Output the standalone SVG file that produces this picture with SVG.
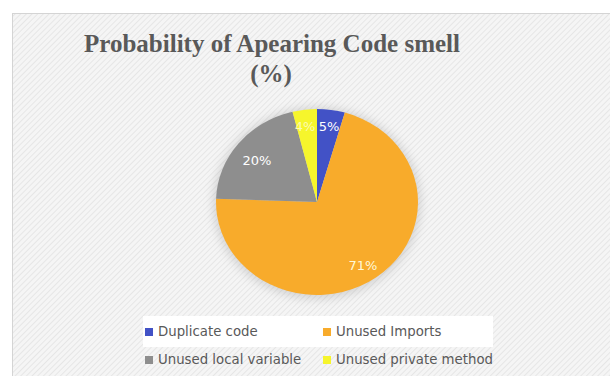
<svg xmlns="http://www.w3.org/2000/svg" width="610" height="376" viewBox="0 0 610 376">
  <defs>
    <pattern id="hatch" width="4" height="4" patternUnits="userSpaceOnUse" patternTransform="rotate(45)">
      <rect width="4" height="4" fill="#f5f5f5"/>
      <line x1="0" y1="0" x2="0" y2="4" stroke="#e2e2e2" stroke-width="1.5"/>
    </pattern>
    <filter id="glow" x="-30%" y="-30%" width="160%" height="160%">
      <feGaussianBlur stdDeviation="5"/>
    </filter>
    <style>
      .title { font-family: "Liberation Serif", "Times New Roman", serif; font-weight: bold; font-size: 25px; fill: #595959; text-anchor: middle; }
      .lbl { font-family: "DejaVu Sans", "Verdana", sans-serif; font-size: 13px; text-anchor: middle; }
      .leg { font-family: "DejaVu Sans", "Verdana", sans-serif; font-size: 13.3px; fill: #595959; }
    </style>
  </defs>

  <rect x="0" y="0" width="610" height="376" fill="#ffffff"/>
  <rect id="chart-area" x="12.5" y="13.5" width="610" height="376" fill="url(#hatch)" stroke="#d4d4d4" stroke-width="1"/>

  <g id="title">
    <text class="title" x="272" y="52">Probability of Apearing Code smell</text>
    <text class="title" x="271" y="82">(%)</text>
  </g>

  <ellipse cx="317" cy="203" rx="104" ry="96" fill="#9a9a9a" opacity="0.35" filter="url(#glow)"/>

  <g id="pie">
    <g id="slice-duplicate">
      <path d="M317,202 L317,109 A101,93 0 0 1 344.84,112.60 Z" fill="#4252c6"/>
      <text class="lbl" x="329" y="131" fill="#ffffff">5%</text>
    </g>
    <g id="slice-imports">
      <path d="M317,202 L344.84,112.60 A101,93 0 1 1 216.06,198.75 Z" fill="#f8ab2b"/>
      <text class="lbl" x="363" y="270" fill="#fff8d8">71%</text>
    </g>
    <g id="slice-local">
      <path d="M317,202 L216.06,198.75 A101,93 0 0 1 292.57,111.76 Z" fill="#8e8e8e"/>
      <text class="lbl" x="257" y="165" fill="#ffffff">20%</text>
    </g>
    <g id="slice-private">
      <path d="M317,202 L292.57,111.76 A101,93 0 0 1 317,109 Z" fill="#f6f52c"/>
      <text class="lbl" x="305" y="131" fill="#fbfbb0">4%</text>
    </g>
  </g>

  <g id="legend">
    <rect x="143" y="316" width="350" height="31" fill="#ffffff"/>
    <g id="legend-duplicate">
      <rect x="145" y="328" width="8" height="8" fill="#4252c6"/>
      <text class="leg" x="158" y="336">Duplicate code</text>
    </g>
    <g id="legend-imports">
      <rect x="323" y="328" width="8" height="8" fill="#f8ab2b"/>
      <text class="leg" x="336" y="336">Unused Imports</text>
    </g>
    <g id="legend-local">
      <rect x="145" y="356" width="8" height="8" fill="#8e8e8e"/>
      <text class="leg" x="158" y="364">Unused local variable</text>
    </g>
    <g id="legend-private">
      <rect x="323" y="356" width="8" height="8" fill="#f6f52c"/>
      <text class="leg" x="336" y="364">Unused private method</text>
    </g>
  </g>
</svg>
